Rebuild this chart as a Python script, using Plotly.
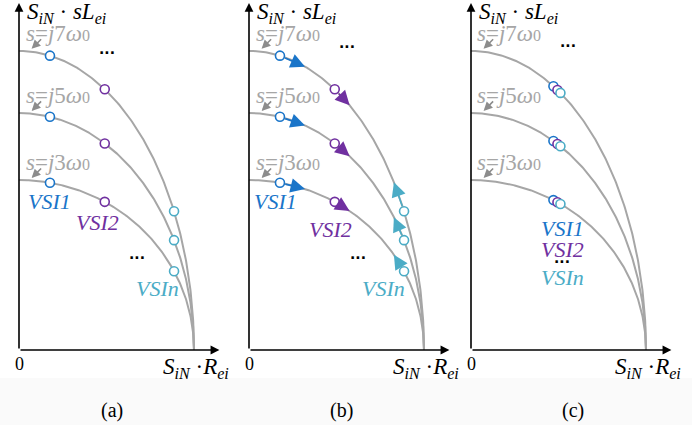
import numpy as np
import plotly.graph_objects as go

# Harmonic circles: s = j·h·ω0, height of each quarter-ellipse at R = 0
harmonics = ["7", "5", "3"]
curve_heights = [1.709, 1.354, 0.971]

# Converter operating points, as a fraction of S_iN·R_ei along each curve
vsi_names = ["VSI1", "VSI2", "VSIn"]
vsi_colors = ["#1a75c9", "#7030a0", "#4bacc6"]
pos_spread = [0.177, 0.49, 0.886]        # panels (a) and (b)
pos_tip_b = [0.32, 0.575, 0.828]         # arrow targets in panel (b)
pos_cluster = [0.471, 0.494, 0.511]      # panel (c)

captions = ["(a)", "(b)", "(c)"]

W, H = 692, 425
PX = 175.0          # pixels per unit on both axes
ORIGIN_Y = 350      # pixel row of the R axis
panel_origin = [19, 249, 471]

GRAY = "#a6a6a6"
SERIF = "Times New Roman, Liberation Serif, DejaVu Serif, serif"


def arc_y(x, b):
    x = np.asarray(x, dtype=float)
    return b * np.sqrt(np.clip(1 - x ** 2, 0, None))


fig = go.Figure()
annotations = []

theta = np.linspace(0, np.pi / 2, 200)

for p, ox in enumerate(panel_origin):
    sfx = "" if p == 0 else str(p + 1)
    xr, yr = "x" + sfx, "y" + sfx
    left = ox - 19
    fig.layout["xaxis" + sfx] = dict(
        domain=[left / W, (left + 230) / W], range=[-19 / PX, 211 / PX],
        visible=False, fixedrange=True, anchor=yr)
    fig.layout["yaxis" + sfx] = dict(
        domain=[0, 1], range=[-(H - ORIGIN_Y) / PX, ORIGIN_Y / PX],
        visible=False, fixedrange=True, anchor=xr)

    # quarter-ellipse curves
    for h, b in zip(harmonics, curve_heights):
        fig.add_trace(go.Scatter(
            x=np.cos(theta), y=b * np.sin(theta), mode="lines",
            line=dict(color=GRAY, width=2), xaxis=xr, yaxis=yr,
            hoverinfo="skip", showlegend=False))
        # harmonic labels with a small pointer to the curve start
        annotations.append(dict(
            x=0.22, y=b + 0.1, xref=xr, yref=yr, showarrow=False,
            text=f"<i>s</i>=<i>j</i>{h}<i>ω</i><span style='font-size:16px'>0</span>",
            font=dict(family=SERIF, size=23, color=GRAY)))
        annotations.append(dict(
            x=0.072, y=b + 0.012, ax=0.135, ay=b + 0.075,
            xref=xr, yref=yr, axref=xr, ayref=yr, text="",
            showarrow=True, arrowhead=2, arrowsize=1.1, arrowwidth=1.6,
            arrowcolor="#8c8c8c"))

    # axes with arrow tips
    annotations.append(dict(x=0, y=1.983, ax=0, ay=0, xref=xr, yref=yr,
                            axref=xr, ayref=yr, text="", showarrow=True,
                            arrowhead=2, arrowsize=1.1, arrowwidth=1.6,
                            arrowcolor="black"))
    annotations.append(dict(x=1.145, y=0, ax=0, ay=0, xref=xr, yref=yr,
                            axref=xr, ayref=yr, text="", showarrow=True,
                            arrowhead=2, arrowsize=1.1, arrowwidth=1.6,
                            arrowcolor="black"))
    annotations.append(dict(
        x=0.27, y=1.926, xref=xr, yref=yr, showarrow=False,
        text="<i>S</i><sub><i>iN</i></sub> · <i>sL</i><sub><i>ei</i></sub>",
        font=dict(family=SERIF, size=23, color="black")))
    annotations.append(dict(x=0.005, y=-0.08, xref=xr, yref=yr, showarrow=False,
                            text="0", font=dict(family=SERIF, size=18, color="black")))
    annotations.append(dict(
        x=1.01, y=-0.103, xref=xr, yref=yr, showarrow=False,
        text="<i>S</i><sub><i>iN</i></sub> ·<i>R</i><sub><i>ei</i></sub>",
        font=dict(family=SERIF, size=23, color="black")))
    annotations.append(dict(x=0.53 + (0.05 if p == 2 else 0), y=-0.343,
                            xref=xr, yref=yr, showarrow=False,
                            text=captions[p],
                            font=dict(family=SERIF, size=20, color="black")))

    positions = pos_cluster if p == 2 else pos_spread
    # arrows along the curves (panel b)
    if p == 1:
        for name, col, x0, x1 in zip(vsi_names, vsi_colors, pos_spread, pos_tip_b):
            for b in curve_heights:
                annotations.append(dict(
                    x=x1, y=float(arc_y(x1, b)), ax=x0, ay=float(arc_y(x0, b)),
                    xref=xr, yref=yr, axref=xr, ayref=yr, text="",
                    showarrow=True, arrowhead=2, arrowsize=1.8, arrowwidth=1.6,
                    arrowcolor=col, startstandoff=4))
    # operating-point markers
    for name, col, xp in zip(vsi_names, vsi_colors, positions):
        fig.add_trace(go.Scatter(
            x=[xp] * len(curve_heights),
            y=[float(arc_y(xp, b)) for b in curve_heights],
            mode="markers", xaxis=xr, yaxis=yr, name=name,
            marker=dict(size=9, color="white", line=dict(color=col, width=1.6)),
            hoverinfo="skip", showlegend=False))

# converter labels and ellipses
label_sets = [
    [(0.177, 0.851), (0.446, 0.731), (0.789, 0.354)],
    [(0.152, 0.846), (0.463, 0.691), (0.77, 0.354)],
    [(0.52, 0.697), (0.52, 0.577), (0.52, 0.417)],
]
for p, labels in enumerate(label_sets):
    sfx = "" if p == 0 else str(p + 1)
    for name, col, (lx, ly) in zip(vsi_names, vsi_colors, labels):
        txt = "<i>" + name + "</i>"
        annotations.append(dict(x=lx, y=ly, xref="x" + sfx, yref="y" + sfx,
                                showarrow=False, text=txt,
                                font=dict(family=SERIF, size=22, color=col)))

dots = [(0, 0.50, 1.70), (0, 0.674, 0.526),
        (1, 0.56, 1.73), (1, 0.623, 0.526),
        (2, 0.555, 1.735), (2, 0.52, 0.505)]
for p, dx, dy in dots:
    sfx = "" if p == 0 else str(p + 1)
    annotations.append(dict(x=dx, y=dy, xref="x" + sfx, yref="y" + sfx,
                            showarrow=False, text="<b>···</b>",
                            font=dict(family="DejaVu Sans", size=14, color="black")))

fig.update_layout(
    width=W, height=H, margin=dict(l=0, r=0, t=0, b=0),
    font=dict(family=SERIF),
    paper_bgcolor="white", plot_bgcolor="rgba(0,0,0,0)",
    annotations=annotations,
    shapes=[dict(type="rect", xref="paper", yref="paper", x0=0, x1=1,
                 y0=0, y1=47 / H, fillcolor="#fafafa", line=dict(width=0),
                 layer="below")],
)

fig.write_html("out.html")
